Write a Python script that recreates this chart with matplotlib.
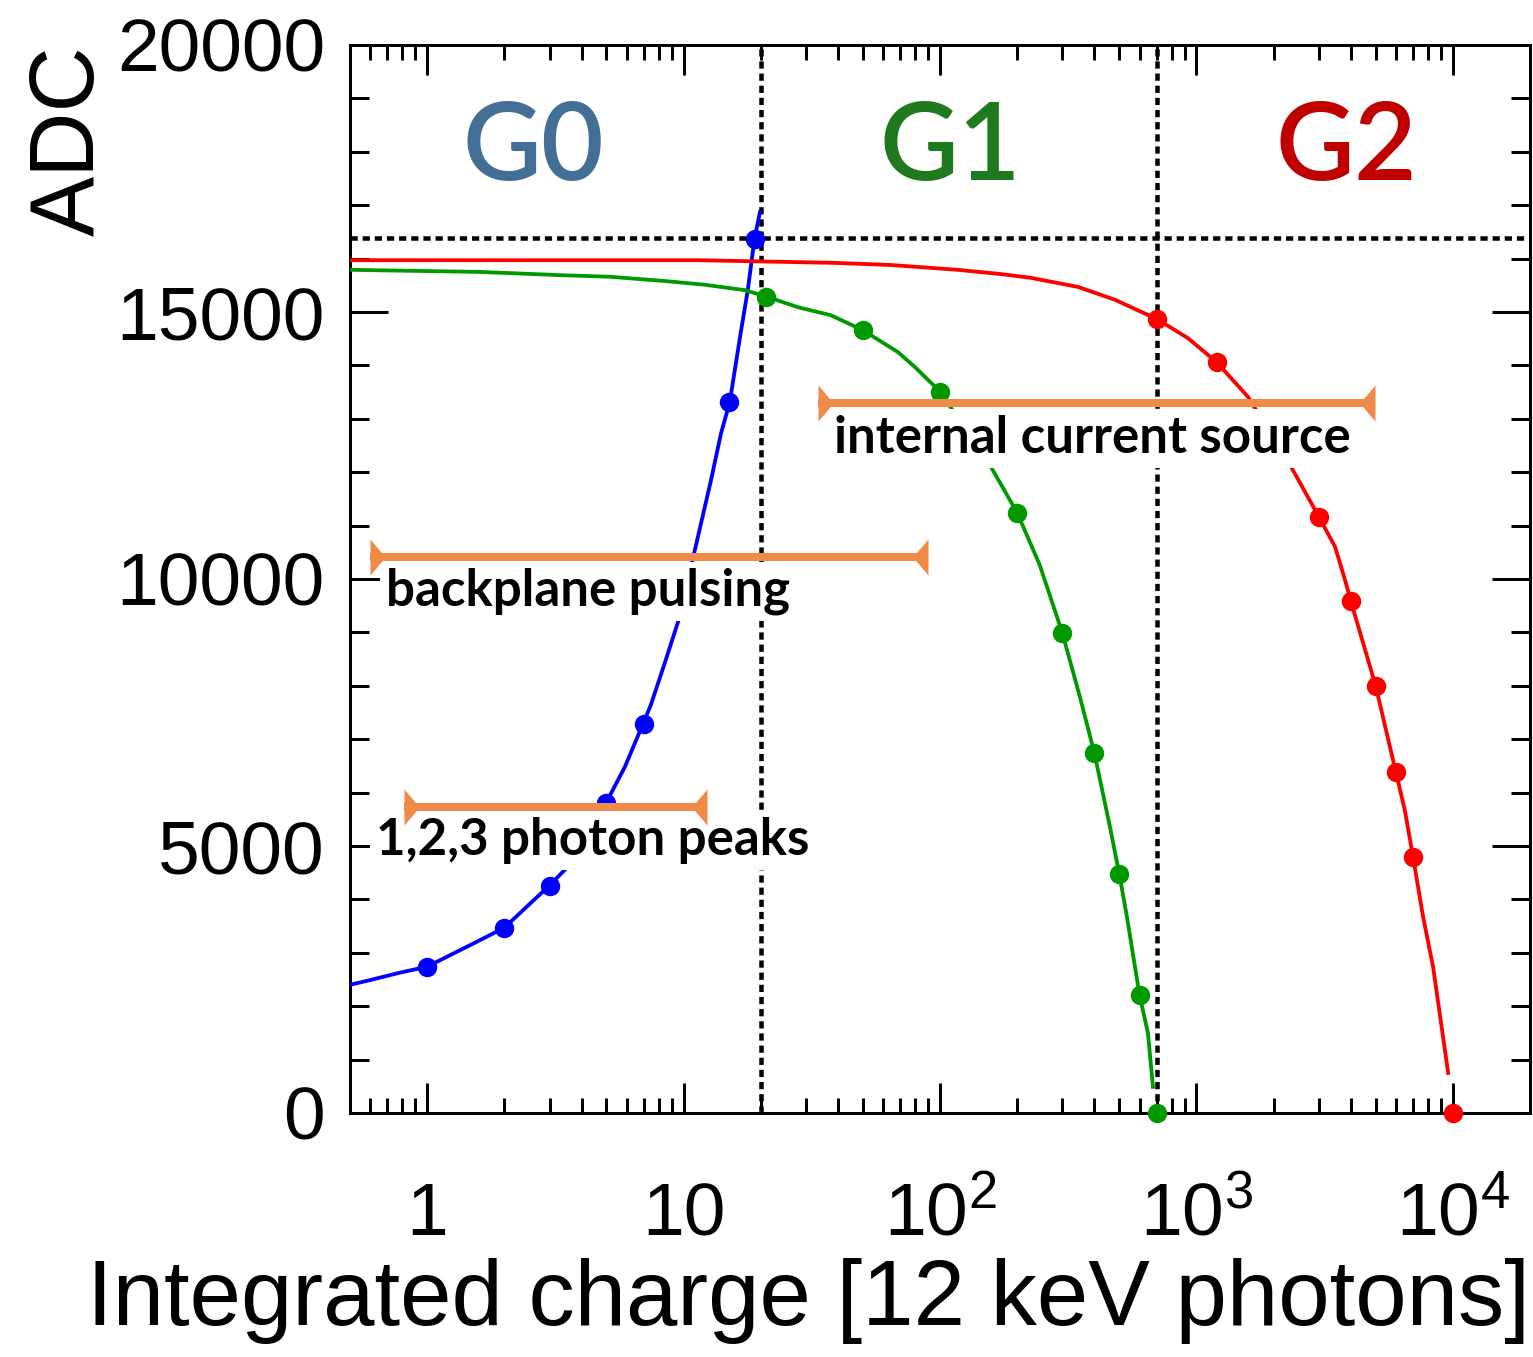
import matplotlib
matplotlib.use("Agg")
import matplotlib.pyplot as plt
from matplotlib.path import Path
from matplotlib.ticker import FixedLocator, FixedFormatter, MultipleLocator, NullFormatter

# ---------------- data ----------------
# G0 (high gain) calibration points and fitted curve
g0_x = [1, 2, 3, 5, 7, 15, 19]
g0_y = [2730, 3470, 4260, 5810, 7290, 13320, 16370]
g0_fit_x = [0.5, 0.6, 0.77, 1.0, 1.48, 2.0, 2.53, 3.0, 3.53, 5.0, 5.9, 6.95, 7.45,
            8.45, 9.65, 11.0, 12.75, 14.0, 15.15, 16.7, 17.8, 18.9, 19.85]
g0_fit_y = [2400, 2490, 2620, 2740, 3150, 3470, 3930, 4260, 4610, 5820, 6480, 7290, 7640,
            8430, 9290, 10490, 11820, 12730, 13320, 14610, 15410, 16370, 16870]

# G1 (medium gain)
g1_x = [21, 50, 100, 200, 300, 400, 500, 600, 700]
g1_y = [15290, 14660, 13510, 11240, 8990, 6740, 4480, 2210, 0]
g1_fit_x = [0.5, 1.62, 3.3, 5.15, 8.45, 12.1, 17.3, 21, 27.9, 37.5, 50, 68.5, 79.8, 100,
            158, 200, 245, 300, 354, 400, 460, 500, 536, 600, 647, 677]
g1_fit_y = [15790, 15750, 15690, 15660, 15580, 15510, 15410, 15290, 15090, 14940, 14660,
            14250, 13970, 13510, 12100, 11240, 10260, 8990, 7730, 6740, 5360, 4480, 3670,
            2210, 1500, 490]

# G2 (low gain)
g2_x = [700, 1200, 3000, 4000, 5000, 6000, 7000, 10000]
g2_y = [14870, 14060, 11170, 9590, 8000, 6380, 4790, 0]
g2_fit_x = [0.5, 11.4, 38.9, 64.3, 117, 173, 226, 345, 481, 700, 927, 1200, 1590, 2340,
            3000, 3475, 3800, 4000, 5000, 6000, 6500, 7000, 7660, 8380, 8930, 9590]
g2_fit_y = [15970, 15970, 15920, 15880, 15790, 15710, 15640, 15470, 15230, 14870, 14510,
            14060, 13410, 12100, 11170, 10600, 9980, 9590, 8000, 6380, 5670, 4790, 3670,
            2730, 1800, 750]

# gain-switching thresholds and ADC saturation
switch_x = [20, 700]
adc_max = 16383

# calibration method ranges: (x_start, x_end, y, label, text_x, text_y)
ranges = [
    (33.4, 4975, 13300, "internal current source", 38.5, 12360),
    (0.60, 90, 10410, "backplane pulsing", 0.688, 9495),
    (0.815, 12.3, 5730, "1,2,3 photon peaks", 0.629, 4830),
]

gain_labels = ["G0", "G1", "G2"]
gain_label_x = [0.155, 0.509, 0.844]
gain_label_colors = ["#436e96", "#1f7a1f", "#c00000"]

x_major = [1, 10, 100, 1000, 10000]
x_major_labels = ["1", "10", r"$10^{2}$", r"$10^{3}$", r"$10^{4}$"]
y_major = [0, 5000, 10000, 15000, 20000]

# ---------------- figure ----------------
W, H, DPI = 1533, 1357, 100
PX = 72.0 / DPI  # points per pixel

plt.rcParams["font.family"] = ["Liberation Sans", "DejaVu Sans"]
plt.rcParams["mathtext.fontset"] = "custom"
plt.rcParams["mathtext.rm"] = "Liberation Sans"
plt.rcParams["mathtext.it"] = "Liberation Sans:italic"
plt.rcParams["mathtext.bf"] = "Liberation Sans:bold"

fig = plt.figure(figsize=(W / DPI, H / DPI), dpi=DPI)
ax = fig.add_axes([350 / W, 1 - 1113 / H, 1180 / W, 1068 / H])
ax.set_xscale("log")
ax.set_xlim(0.5, 20000)
ax.set_ylim(0, 20000)

for s in ax.spines.values():
    s.set_linewidth(3 * PX)

# ticks, ROOT style: inward on all four sides
ax.xaxis.set_major_locator(FixedLocator(x_major))
ax.xaxis.set_major_formatter(FixedFormatter(x_major_labels))
minor = [m * 10.0 ** e for e in range(-1, 5) for m in range(2, 10)]
ax.xaxis.set_minor_locator(FixedLocator([v for v in minor if 0.5 <= v <= 20000]))
ax.xaxis.set_minor_formatter(NullFormatter())
ax.yaxis.set_major_locator(FixedLocator(y_major))
ax.yaxis.set_major_formatter(FixedFormatter([str(v) for v in y_major]))
ax.yaxis.set_minor_locator(MultipleLocator(1000))

ax.tick_params(axis="x", which="both", direction="in", top=True, bottom=True,
               width=3 * PX, color="black")
ax.tick_params(axis="x", which="major", length=30 * PX, labelsize=54, pad=122 * PX)
ax.tick_params(axis="x", which="minor", length=15 * PX)
ax.tick_params(axis="y", which="both", direction="in", left=True, right=True,
               width=3 * PX, color="black")
ax.tick_params(axis="y", which="major", length=38 * PX, labelsize=54, pad=25 * PX)
ax.tick_params(axis="y", which="minor", length=19 * PX)
for t in ax.xaxis.get_major_ticks():
    t.label1.set_verticalalignment("baseline")

# dotted guide lines
dot = dict(color="black", lw=4.5 * PX, ls=(0, (1.6, 1.1)), zorder=2)
for xv in switch_x:
    ax.axvline(xv, **dot)
ax.axhline(adc_max, **dot)

# gain curves
series = [
    (g0_fit_x, g0_fit_y, g0_x, g0_y, "#0000ff"),
    (g1_fit_x, g1_fit_y, g1_x, g1_y, "#009900"),
    (g2_fit_x, g2_fit_y, g2_x, g2_y, "#ff0000"),
]
for fx, fy, px_, py_, c in series:
    ax.plot(fx, fy, color=c, lw=3.8 * PX, zorder=3)
    ax.plot(px_, py_, "o", color=c, ms=14, mec="none", zorder=4, clip_on=False)

# calibration range bars with triangular end caps
cap_left = Path([(0, -1), (0, 1), (0.85, 0), (0, -1)],
                [Path.MOVETO, Path.LINETO, Path.LINETO, Path.CLOSEPOLY])
cap_right = Path([(0, -1), (0, 1), (-0.85, 0), (0, -1)],
                 [Path.MOVETO, Path.LINETO, Path.LINETO, Path.CLOSEPOLY])
orange = "#ef8a47"
for x0, x1, yv, label, tx, ty in ranges:
    ax.plot([x0, x1], [yv, yv], color=orange, lw=8 * PX, solid_capstyle="butt", zorder=7)
    ax.plot([x0], [yv], marker=cap_left, ms=36 * PX, color=orange, mec="none", zorder=7)
    ax.plot([x1], [yv], marker=cap_right, ms=36 * PX, color=orange, mec="none", zorder=7)
    ax.text(tx, ty, label, family=["Lato", "DejaVu Sans"], fontweight="bold",
            fontsize=36.7, va="baseline", ha="left", zorder=6,
            bbox=dict(facecolor="white", edgecolor="none", pad=4))

# gain stage labels
for lab, gx, gc in zip(gain_labels, gain_label_x, gain_label_colors):
    ax.text(gx, 0.903, lab, transform=ax.transAxes, ha="center", va="center",
            family=["Lato", "DejaVu Sans"], fontweight="semibold", fontsize=78,
            color=gc, zorder=6)

# axis titles
fig.text(70 / W, 1 - 45 / H, "ADC", rotation=90, ha="center", va="top", fontsize=65)
fig.text(1530 / W, 1 - 1325 / H, "Integrated charge [12 keV photons]",
         ha="right", va="baseline", fontsize=66.5)

fig.savefig("out.png", dpi=DPI)
